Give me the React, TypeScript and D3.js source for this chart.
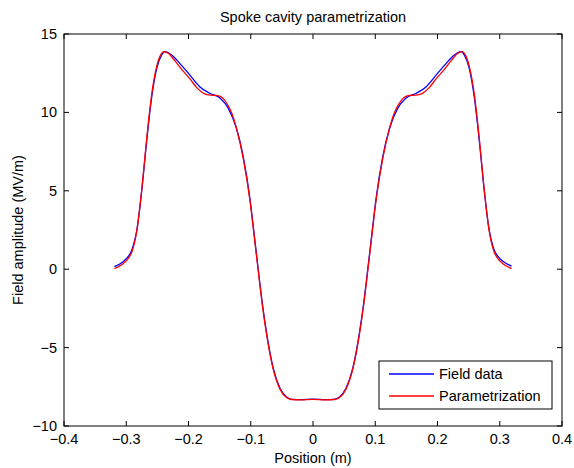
import React from "react";
import * as d3 from "d3";

const W = 574;
const H = 468;
const M = { left: 64, right: 12, top: 34, bottom: 42 };

const xTicks = [-0.4, -0.3, -0.2, -0.1, 0, 0.1, 0.2, 0.3, 0.4];
const yTicks = [-10, -5, 0, 5, 10, 15];

const fieldX = [
  -0.319, -0.305, -0.297, -0.291, -0.287, -0.283, -0.275, -0.267, -0.259, -0.251, -0.243, -0.238,
  -0.227, -0.214, -0.198, -0.182, -0.166, -0.149, -0.136, -0.123, -0.112, -0.101,
  -0.095, -0.088, -0.081, -0.074, -0.064, -0.053, -0.042, -0.034, -0.02, 0,
  0.02, 0.034, 0.042, 0.053, 0.064, 0.074, 0.081, 0.088, 0.095, 0.101,
  0.112, 0.123, 0.136, 0.149, 0.166, 0.182, 0.198, 0.214, 0.227, 0.238,
  0.243, 0.251, 0.259, 0.267, 0.275, 0.283, 0.287, 0.291, 0.297, 0.305, 0.319,
];
const fieldY = [
  0.16, 0.48, 0.8, 1.22, 1.75, 2.5, 5.05, 8.24, 11.0, 12.81, 13.66, 13.87,
  13.66, 13.13, 12.39, 11.64, 11.22, 10.9, 10.26, 8.99, 7.17, 4.41,
  2.4, 0.0, -2.3, -4.2, -6.3, -7.6, -8.17, -8.3, -8.32, -8.28,
  -8.32, -8.3, -8.17, -7.6, -6.3, -4.2, -2.3, 0.0, 2.4, 4.41,
  7.17, 8.99, 10.26, 10.9, 11.22, 11.64, 12.39, 13.13, 13.66, 13.87,
  13.66, 12.81, 11.0, 8.24, 5.05, 2.5, 1.75, 1.22, 0.82, 0.5, 0.2,
];

const paramX = [
  -0.319, -0.305, -0.297, -0.291, -0.287, -0.283, -0.275, -0.267, -0.259, -0.251, -0.244, -0.24,
  -0.232, -0.222, -0.21, -0.198, -0.186, -0.175, -0.165, -0.155, -0.146, -0.138,
  -0.13, -0.123, -0.112, -0.101, -0.095, -0.088, -0.081, -0.074, -0.064, -0.053,
  -0.042, -0.034, -0.02, 0,
  0.02, 0.034, 0.042, 0.053, 0.064, 0.074, 0.081, 0.088, 0.095, 0.101,
  0.112, 0.123, 0.13, 0.138, 0.146, 0.155, 0.165, 0.175, 0.186, 0.198,
  0.21, 0.222, 0.232, 0.24, 0.244, 0.251, 0.259, 0.267, 0.275, 0.283,
  0.287, 0.291, 0.297, 0.305, 0.319,
];
const paramY = [
  0.04, 0.35, 0.68, 1.1, 1.65, 2.45, 5.1, 8.4, 11.2, 12.95, 13.72, 13.88,
  13.75, 13.3, 12.7, 12.15, 11.55, 11.2, 11.1, 11.08, 10.95, 10.55,
  9.9, 9.0, 7.05, 4.3, 2.3, -0.1, -2.4, -4.3, -6.35, -7.65,
  -8.2, -8.31, -8.33, -8.3,
  -8.33, -8.31, -8.2, -7.65, -6.35, -4.3, -2.4, -0.1, 2.3, 4.3,
  7.05, 9.0, 9.9, 10.55, 10.95, 11.08, 11.1, 11.2, 11.55, 12.15,
  12.7, 13.3, 13.75, 13.88, 13.72, 12.95, 11.2, 8.4, 5.1, 2.45,
  1.65, 1.1, 0.68, 0.35, 0.04,
];

const fmt = (v: number) => {
  const s = Math.abs(v) < 1e-9 ? "0" : String(Math.abs(v));
  return v < -1e-9 ? "\u2212" + s : s;
};

export default function App() {
  const x = d3.scaleLinear().domain([-0.4, 0.4]).range([M.left, W - M.right]);
  const y = d3.scaleLinear().domain([-10, 15]).range([H - M.bottom, M.top]);
  const line = d3
    .line<[number, number]>()
    .x((d) => x(d[0]))
    .y((d) => y(d[1]))
    .curve(d3.curveMonotoneX);
  const field = fieldX.map((v, i) => [v, fieldY[i]] as [number, number]);
  const param = paramX.map((v, i) => [v, paramY[i]] as [number, number]);
  const x0 = M.left, x1 = W - M.right, y0 = H - M.bottom, y1 = M.top;
  const font = "Liberation Sans, Arial, Helvetica, sans-serif";
  const fs = 14.5;
  const tl = 5;
  const lgX = 379, lgY = 361, lgW = 173, lgH = 48;
  return (
    <svg width={W} height={H} style={{ position: "absolute", left: 0, top: 0, background: "#fff" }} fontFamily={font}>
      <rect x={0} y={0} width={W} height={H} fill="#fff" />
      <text x={(x0 + x1) / 2} y={22} textAnchor="middle" fontSize={fs}>Spoke cavity parametrization</text>
      <path d={line(field) || ""} fill="none" stroke="#0000ff" strokeWidth={1.3} />
      <path d={line(param) || ""} fill="none" stroke="#ff0000" strokeWidth={1.3} />
      <rect x={x0} y={y1} width={x1 - x0} height={y0 - y1} fill="none" stroke="#000" strokeWidth={1} />
      {xTicks.map((t) => (
        <g key={"x" + t}>
          <line x1={x(t)} x2={x(t)} y1={y0} y2={y0 - tl} stroke="#000" />
          <line x1={x(t)} x2={x(t)} y1={y1} y2={y1 + tl} stroke="#000" />
          <text x={x(t)} y={444} textAnchor="middle" fontSize={fs}>{fmt(t)}</text>
        </g>
      ))}
      {yTicks.map((t) => (
        <g key={"y" + t}>
          <line x1={x0} x2={x0 + tl} y1={y(t)} y2={y(t)} stroke="#000" />
          <line x1={x1} x2={x1 - tl} y1={y(t)} y2={y(t)} stroke="#000" />
          <text x={57} y={y(t) + 5} textAnchor="end" fontSize={fs}>{fmt(t)}</text>
        </g>
      ))}
      <text x={(x0 + x1) / 2} y={463} textAnchor="middle" fontSize={fs}>Position (m)</text>
      <text transform={`translate(23, ${(y0 + y1) / 2}) rotate(-90)`} textAnchor="middle" fontSize={fs}>Field amplitude (MV/m)</text>
      <rect x={lgX} y={lgY} width={lgW} height={lgH} fill="#fff" stroke="#000" strokeWidth={1} />
      <line x1={389} x2={434} y1={374} y2={374} stroke="#0000ff" strokeWidth={1.3} />
      <line x1={389} x2={434} y1={396} y2={396} stroke="#ff0000" strokeWidth={1.3} />
      <text x={439} y={379} fontSize={fs}>Field data</text>
      <text x={439} y={401} fontSize={fs}>Parametrization</text>
    </svg>
  );
}
